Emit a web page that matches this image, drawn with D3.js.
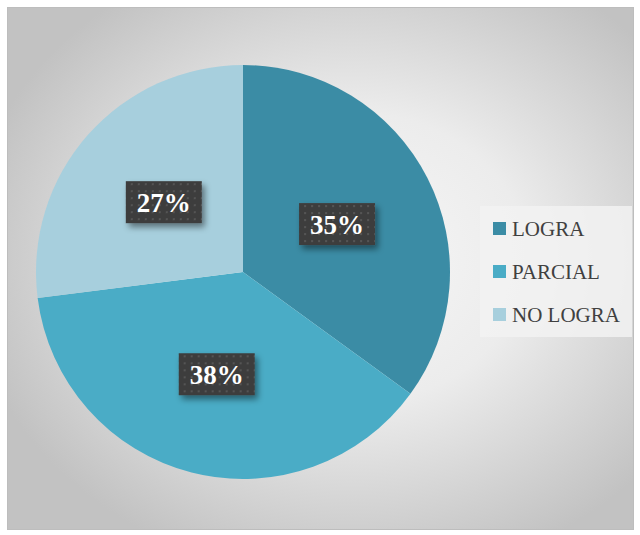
<!DOCTYPE html>
<html>
<head>
<meta charset="utf-8">
<script src="https://cdn.jsdelivr.net/npm/d3@7"></script>
<style>
  body { margin: 0; background: #fff; }
  svg { display: block; }
</style>
</head>
<body>
<script>
const categories = ["LOGRA", "PARCIAL", "NO LOGRA"];
const values = [35, 38, 27];
const colors = ["#3b8ca5", "#4aacc6", "#a7cfdd"];

const w = 640;
const h = 535;

// chart frame
const frame = { x: 7, y: 7, w: 626, h: 522 };
const cx = 243, cy = 272, r = 207;

const svg = d3.select("body").append("svg")
  .attr("width", w)
  .attr("height", h);

const defs = svg.append("defs");

const grad = defs.append("radialGradient")
  .attr("id", "bg")
  .attr("cx", "55%").attr("cy", "48%").attr("r", "62%");
grad.append("stop").attr("offset", "0%").attr("stop-color", "#f7f7f7");
grad.append("stop").attr("offset", "45%").attr("stop-color", "#ececec");
grad.append("stop").attr("offset", "100%").attr("stop-color", "#c2c2c2");

// dotted pattern for the label boxes
const pat = defs.append("pattern")
  .attr("id", "dots")
  .attr("width", 7).attr("height", 7)
  .attr("patternUnits", "userSpaceOnUse");
pat.append("rect").attr("width", 7).attr("height", 7).attr("fill", "#3e3e3e");
pat.append("rect").attr("x", 2).attr("y", 2).attr("width", 2).attr("height", 2).attr("fill", "#545454");

const shadow = defs.append("filter")
  .attr("id", "shadow")
  .attr("x", "-30%").attr("y", "-30%").attr("width", "160%").attr("height", "170%");
shadow.append("feDropShadow")
  .attr("dx", 3).attr("dy", 4).attr("stdDeviation", 3)
  .attr("flood-color", "#000").attr("flood-opacity", 0.45);

svg.append("rect")
  .attr("x", frame.x + 0.5).attr("y", frame.y + 0.5)
  .attr("width", frame.w).attr("height", frame.h)
  .attr("fill", "url(#bg)")
  .attr("stroke", "#bdbdbd");

// pie
const pie = d3.pie().sort(null).value(d => d);
const arcs = pie(values);
const arc = d3.arc().innerRadius(0).outerRadius(r);
const labelArc = d3.arc().innerRadius(r * 0.51).outerRadius(r * 0.51);

const g = svg.append("g").attr("transform", `translate(${cx},${cy})`);

g.selectAll("path.slice")
  .data(arcs)
  .enter()
  .append("path")
  .attr("class", "slice")
  .attr("d", arc)
  .attr("fill", (d, i) => colors[i]);

const labels = g.selectAll("g.lbl")
  .data(arcs)
  .enter()
  .append("g")
  .attr("class", "lbl")
  .attr("transform", d => `translate(${labelArc.centroid(d)})`);

labels.append("rect")
  .attr("x", -38).attr("y", -21)
  .attr("width", 76).attr("height", 42)
  .attr("fill", "url(#dots)")
  .attr("filter", "url(#shadow)");

labels.append("text")
  .attr("text-anchor", "middle")
  .attr("dy", "0.35em")
  .attr("fill", "#fff")
  .style("font-family", "'Liberation Serif', 'DejaVu Serif', serif")
  .style("font-weight", "bold")
  .style("font-size", "27px")
  .text(d => d3.format(".0%")(d.data / d3.sum(values)));

// legend
const legend = svg.append("g").attr("transform", "translate(480,206)");

legend.append("rect")
  .attr("width", 152).attr("height", 131)
  .attr("fill", "#f2f2f2")
  .attr("fill-opacity", 0.85);

const rowY = d3.scalePoint()
  .domain(categories)
  .range([22, 108]);

const rows = legend.selectAll("g.row")
  .data(categories)
  .enter()
  .append("g")
  .attr("class", "row")
  .attr("transform", d => `translate(0,${rowY(d)})`);

rows.append("rect")
  .attr("x", 13).attr("y", -6)
  .attr("width", 13).attr("height", 13)
  .attr("fill", (d, i) => colors[i]);

rows.append("text")
  .attr("x", 32)
  .attr("y", 8)
  .attr("fill", "#404040")
  .style("font-family", "'Liberation Serif', 'DejaVu Serif', serif")
  .style("font-size", "21px")
  .text(d => d);
</script>
</body>
</html>
